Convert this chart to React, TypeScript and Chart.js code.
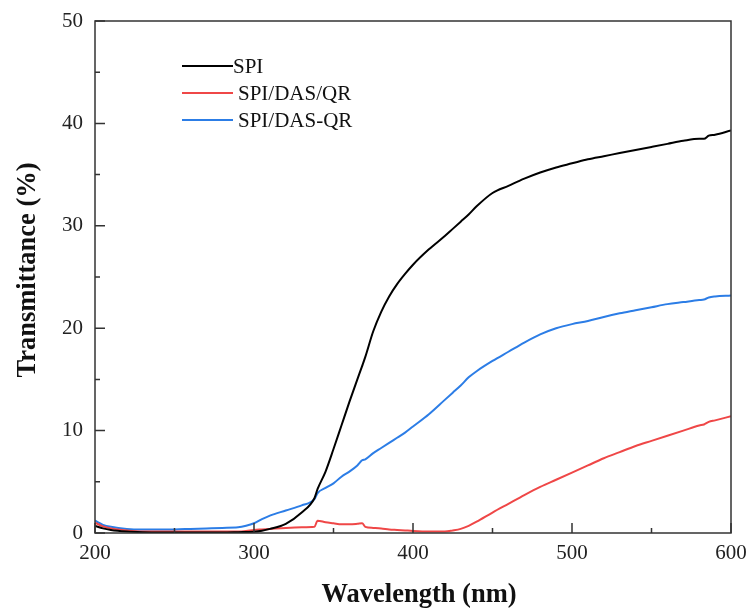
import { useEffect, useRef } from 'react';
import { Chart, registerables } from 'chart.js';

Chart.register(...registerables);

const wavelengths = [200, 205, 210, 220, 230, 240, 250, 260, 270, 280, 290, 295, 300, 305, 310, 320, 330, 338, 340, 345, 350, 355, 360, 365, 368, 370, 375, 380, 385, 390, 395, 400, 410, 420, 425, 430, 435, 440, 450, 460, 470, 480, 490, 500, 510, 520, 530, 540, 550, 560, 570, 580, 583, 586, 590, 600];

const spi = [0.7, 0.45, 0.3, 0.15, 0.08, 0.05, 0.05, 0.05, 0.05, 0.05, 0.08, 0.1, 0.12, 0.22, 0.4, 0.9, 2.0, 3.4, 4.3, 6.0, 8.2, 10.5, 12.8, 15.0, 16.3, 17.2, 19.7, 21.6, 23.1, 24.3, 25.3, 26.2, 27.7, 29.0, 29.7, 30.4, 31.1, 31.9, 33.2, 33.9, 34.6, 35.2, 35.7, 36.1, 36.5, 36.8, 37.1, 37.4, 37.7, 38.0, 38.3, 38.5, 38.5, 38.8, 38.9, 39.3];

const spiDasSlashQr = [1.0, 0.65, 0.45, 0.25, 0.15, 0.15, 0.15, 0.15, 0.15, 0.15, 0.15, 0.2, 0.3, 0.35, 0.4, 0.5, 0.55, 0.6, 1.2, 1.05, 0.95, 0.85, 0.85, 0.9, 0.95, 0.6, 0.5, 0.45, 0.35, 0.3, 0.25, 0.2, 0.15, 0.15, 0.25, 0.4, 0.7, 1.1, 2.0, 2.85, 3.7, 4.5, 5.2, 5.9, 6.6, 7.3, 7.9, 8.5, 9.0, 9.5, 10.0, 10.5, 10.6, 10.85, 11.0, 11.4];

const spiDasDashQr = [1.2, 0.8, 0.6, 0.4, 0.35, 0.35, 0.35, 0.4, 0.45, 0.5, 0.55, 0.7, 0.95, 1.35, 1.7, 2.2, 2.7, 3.3, 3.9, 4.4, 4.85, 5.5, 6.0, 6.6, 7.1, 7.2, 7.8, 8.3, 8.8, 9.3, 9.8, 10.4, 11.6, 13.0, 13.7, 14.4, 15.2, 15.8, 16.8, 17.7, 18.6, 19.4, 20.0, 20.4, 20.7, 21.1, 21.45, 21.75, 22.05, 22.35, 22.55, 22.75, 22.8, 23.0, 23.1, 23.2];

const seriesLabels = ['SPI', 'SPI/DAS/QR', 'SPI/DAS-QR'];
const seriesColors = ['#000000', '#ef4747', '#2c7de6'];

const xMajorTicks = [200, 300, 400, 500, 600];
const xMinorTicks = [250, 350, 450, 550];
const yMajorTicks = [0, 10, 20, 30, 40, 50];
const yMinorTicks = [5, 15, 25, 35, 45];

const xTitle = 'Wavelength (nm)';
const yTitle = 'Transmittance (%)';

const decorPlugin = {
  id: 'decor',
  afterDraw(chart: any) {
    const { ctx, chartArea: a, scales } = chart;
    const xs = scales.x;
    const ys = scales.y;
    ctx.save();
    // frame
    ctx.strokeStyle = '#333333';
    ctx.lineWidth = 1.5;
    ctx.strokeRect(a.left, a.top, a.right - a.left, a.bottom - a.top);
    // inward ticks
    ctx.beginPath();
    xMajorTicks.forEach((v) => {
      const px = xs.getPixelForValue(v);
      ctx.moveTo(px, a.bottom);
      ctx.lineTo(px, a.bottom - 10);
    });
    xMinorTicks.forEach((v) => {
      const px = xs.getPixelForValue(v);
      ctx.moveTo(px, a.bottom);
      ctx.lineTo(px, a.bottom - 5);
    });
    yMajorTicks.forEach((v) => {
      const py = ys.getPixelForValue(v);
      ctx.moveTo(a.left, py);
      ctx.lineTo(a.left + 10, py);
    });
    yMinorTicks.forEach((v) => {
      const py = ys.getPixelForValue(v);
      ctx.moveTo(a.left, py);
      ctx.lineTo(a.left + 5, py);
    });
    ctx.stroke();

    // tick labels
    ctx.fillStyle = '#222222';
    ctx.font = '21px "Liberation Serif"';
    ctx.textBaseline = 'middle';
    ctx.textAlign = 'center';
    xMajorTicks.forEach((v) => {
      ctx.fillText(String(v), xs.getPixelForValue(v), a.bottom + 20);
    });
    ctx.textAlign = 'right';
    yMajorTicks.forEach((v) => {
      ctx.fillText(String(v), a.left - 12, ys.getPixelForValue(v));
    });

    // axis titles
    ctx.fillStyle = '#111111';
    ctx.font = 'bold 26.5px "Liberation Serif"';
    ctx.textAlign = 'center';
    ctx.fillText(xTitle, (a.left + a.right) / 2 + 6, a.bottom + 62);
    ctx.save();
    ctx.translate(28, (a.top + a.bottom) / 2 - 7);
    ctx.rotate(-Math.PI / 2);
    ctx.fillText(yTitle, 0, 0);
    ctx.restore();

    // legend
    ctx.font = '21px "Liberation Serif"';
    ctx.textAlign = 'left';
    ctx.lineWidth = 2;
    seriesLabels.forEach((label, i) => {
      const ly = a.top + 45 + i * 27;
      const lx0 = a.left + 87;
      const lx1 = a.left + 138;
      ctx.strokeStyle = seriesColors[i];
      ctx.beginPath();
      ctx.moveTo(lx0, ly);
      ctx.lineTo(lx1, ly);
      ctx.stroke();
      ctx.fillStyle = '#111111';
      ctx.fillText(label, lx1 + (i === 0 ? 0 : 5), ly + 1);
    });
    ctx.restore();
  },
};

export default function App() {
  const canvasRef = useRef<HTMLCanvasElement | null>(null);

  useEffect(() => {
    if (!canvasRef.current) return;
    const seriesValues = [spi, spiDasSlashQr, spiDasDashQr];
    const chart = new Chart(canvasRef.current, {
      type: 'line',
      data: {
        datasets: seriesValues.map((vals, i) => ({
          label: seriesLabels[i],
          data: wavelengths.map((w, j) => ({ x: w, y: vals[j] })),
          borderColor: seriesColors[i],
          backgroundColor: seriesColors[i],
          borderWidth: 2,
          pointRadius: 0,
          cubicInterpolationMode: 'monotone' as const,
          fill: false,
        })),
      },
      options: {
        animation: false,
        responsive: false,
        maintainAspectRatio: false,
        layout: { padding: { left: 95, right: 17, top: 21, bottom: 77 } },
        plugins: { legend: { display: false }, tooltip: { enabled: false } },
        scales: {
          x: { type: 'linear', min: 200, max: 600, display: false },
          y: { type: 'linear', min: 0, max: 50, display: false },
        },
      },
      plugins: [decorPlugin],
    });
    return () => chart.destroy();
  }, []);

  return (
    <div style={{ position: 'absolute', left: 0, top: 0, width: 748, height: 610, background: '#ffffff' }}>
      <canvas ref={canvasRef} width={748} height={610} />
    </div>
  );
}
